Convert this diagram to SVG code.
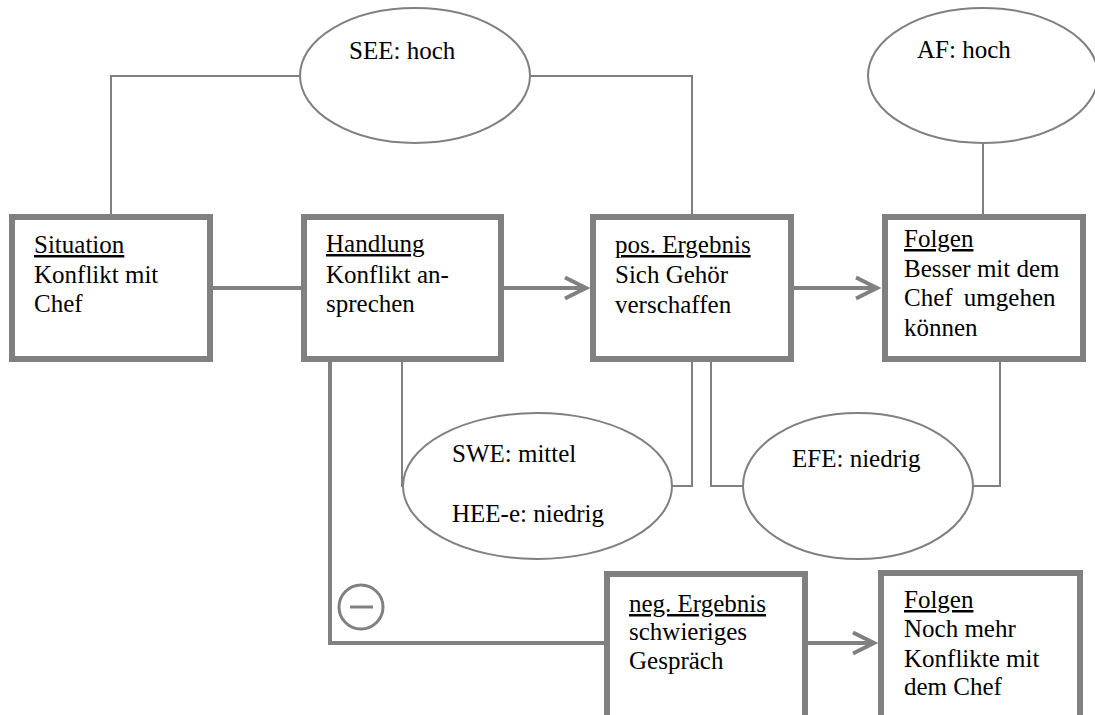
<svg xmlns="http://www.w3.org/2000/svg" width="1095" height="715" viewBox="0 0 1095 715" font-family="Liberation Serif" font-size="25">
  <defs>
    <marker id="chevron" viewBox="0 0 26 24" markerUnits="userSpaceOnUse" markerWidth="26" markerHeight="24" refX="22" refY="12" orient="auto" overflow="visible">
      <path d="M1,1.5 L22,12 L1,22.5" fill="none" stroke="#808080" stroke-width="4"/>
    </marker>
  </defs>

  <!-- connectors -->
  <g id="connectors" fill="none" stroke="#808080">
    <!-- main flow -->
    <g stroke-width="4">
      <line x1="213" y1="288" x2="301" y2="288"/>
      <line x1="504" y1="288" x2="586" y2="288" marker-end="url(#chevron)"/>
      <line x1="794" y1="288" x2="877" y2="288" marker-end="url(#chevron)"/>
      <!-- negative branch -->
      <polyline points="330,362 330,643 604,643"/>
      <line x1="808" y1="643" x2="874" y2="643" marker-end="url(#chevron)"/>
    </g>
    <g stroke-width="2">
      <!-- SEE links -->
      <polyline points="111,214 111,76 300,76"/>
      <polyline points="530,76 692,76 692,214"/>
      <!-- AF link -->
      <line x1="983" y1="143" x2="983" y2="214"/>
      <!-- SWE / HEE-e links -->
      <polyline points="402,362 402,486 404,486"/>
      <polyline points="672,486 692,486 692,362"/>
      <!-- EFE links -->
      <polyline points="711,362 711,486 743,486"/>
      <polyline points="973,486 1000,486 1000,362"/>
    </g>
  </g>

  <!-- rating ellipses -->
  <g id="see">
    <ellipse cx="415" cy="75.5" rx="115" ry="67.5" fill="#ffffff" stroke="#808080" stroke-width="2"/>
    <text font-family="Liberation Serif" font-size="25" x="349" y="59">SEE: hoch</text>
  </g>
  <g id="af">
    <ellipse cx="983" cy="75.5" rx="115" ry="67.5" fill="#ffffff" stroke="#808080" stroke-width="2"/>
    <text font-family="Liberation Serif" font-size="25" x="917" y="58">AF: hoch</text>
  </g>
  <g id="swe">
    <ellipse cx="537.5" cy="486" rx="134.5" ry="73" fill="#ffffff" stroke="#808080" stroke-width="2"/>
    <text font-family="Liberation Serif" font-size="25" x="452" y="462">SWE: mittel</text>
    <text font-family="Liberation Serif" font-size="25" x="452" y="522">HEE-e: niedrig</text>
  </g>
  <g id="efe">
    <ellipse cx="858" cy="486" rx="115" ry="73" fill="#ffffff" stroke="#808080" stroke-width="2"/>
    <text font-family="Liberation Serif" font-size="25" x="792" y="467">EFE: niedrig</text>
  </g>

  <!-- boxes -->
  <g id="situation">
    <rect x="12" y="217" width="198" height="142" fill="#ffffff" stroke="#808080" stroke-width="6"/>
    <text font-family="Liberation Serif" font-size="25" x="34" y="253" text-decoration="underline">Situation</text>
    <text font-family="Liberation Serif" font-size="25" x="34" y="283">Konflikt mit</text>
    <text font-family="Liberation Serif" font-size="25" x="34" y="312">Chef</text>
  </g>
  <g id="handlung">
    <rect x="304" y="217" width="197" height="142" fill="#ffffff" stroke="#808080" stroke-width="6"/>
    <text font-family="Liberation Serif" font-size="25" x="326" y="252" text-decoration="underline">Handlung</text>
    <text font-family="Liberation Serif" font-size="25" x="326" y="283">Konflikt an-</text>
    <text font-family="Liberation Serif" font-size="25" x="326" y="312">sprechen</text>
  </g>
  <g id="pos-ergebnis">
    <rect x="593" y="217" width="198" height="142" fill="#ffffff" stroke="#808080" stroke-width="6"/>
    <text font-family="Liberation Serif" font-size="25" x="615" y="253" text-decoration="underline">pos. Ergebnis</text>
    <text font-family="Liberation Serif" font-size="25" x="615" y="283">Sich Geh&#246;r</text>
    <text font-family="Liberation Serif" font-size="25" x="615" y="313">verschaffen</text>
  </g>
  <g id="folgen-pos">
    <rect x="885" y="217" width="198" height="142" fill="#ffffff" stroke="#808080" stroke-width="6"/>
    <text font-family="Liberation Serif" font-size="25" x="904" y="247" text-decoration="underline">Folgen</text>
    <text font-family="Liberation Serif" font-size="25" x="904" y="277">Besser mit dem</text>
    <text font-family="Liberation Serif" font-size="25" x="904" y="306">Chef <tspan dx="5">umgehen</tspan></text>
    <text font-family="Liberation Serif" font-size="25" x="904" y="336">k&#246;nnen</text>
  </g>
  <g id="neg-ergebnis">
    <rect x="607" y="574" width="198" height="145" fill="#ffffff" stroke="#808080" stroke-width="6"/>
    <text font-family="Liberation Serif" font-size="25" x="629" y="612" text-decoration="underline">neg. Ergebnis</text>
    <text font-family="Liberation Serif" font-size="25" x="629" y="640">schwieriges</text>
    <text font-family="Liberation Serif" font-size="25" x="629" y="669">Gespr&#228;ch</text>
  </g>
  <g id="folgen-neg">
    <rect x="881" y="573" width="199" height="146" fill="#ffffff" stroke="#808080" stroke-width="6"/>
    <text font-family="Liberation Serif" font-size="25" x="904" y="608" text-decoration="underline">Folgen</text>
    <text font-family="Liberation Serif" font-size="25" x="904" y="637">Noch mehr</text>
    <text font-family="Liberation Serif" font-size="25" x="904" y="667">Konflikte mit</text>
    <text font-family="Liberation Serif" font-size="25" x="904" y="695">dem Chef</text>
  </g>

  <!-- minus sign on the negative branch -->
  <g id="minus">
    <circle cx="361" cy="607" r="22" fill="#ffffff" stroke="#808080" stroke-width="3"/>
    <line x1="350" y1="607" x2="373" y2="607" stroke="#808080" stroke-width="3"/>
  </g>
</svg>
